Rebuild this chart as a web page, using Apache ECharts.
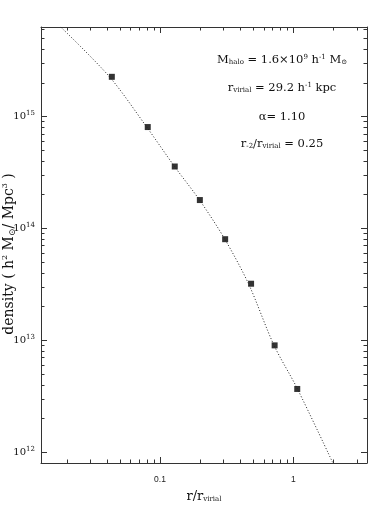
<!DOCTYPE html>
<html>
<head>
<meta charset="utf-8">
<script src="https://cdn.jsdelivr.net/npm/echarts@6/dist/echarts.min.js"></script>
<style>
  html, body { margin: 0; padding: 0; background: #fff; }
  #chart { width: 388px; height: 516px; }
</style>
</head>
<body>
<div id="chart"></div>
<script>
// measured halo (squares)
var pointR = [0.0435, 0.0809, 0.129, 0.199, 0.308, 0.482, 0.724, 1.07];
var pointDensity = [2.26e15, 8.04e14, 3.57e14, 1.79e14, 8.0e13, 3.2e13, 9.0e12, 3.67e12];
// fitted profile (dotted line)
var fitR = [0.0180, 0.0418, 0.0792, 0.1285, 0.198, 0.305, 0.461, 0.716, 1.066, 1.968];
var fitDensity = [6.30e15, 2.26e15, 8.09e14, 3.57e14, 1.79e14, 8.07e13, 3.20e13, 9.02e12, 3.74e12, 8.13e11];

// axes
var xMin = 0.0128, xMax = 3.57;
var yMin = 8.0e11, yMax = 6.3e15;
var xMajor = [0.1, 1];
var xMajorLabels = ["0.1", "1"];
var xMinor = [0.02, 0.03, 0.04, 0.05, 0.06, 0.07, 0.08, 0.09,
  0.2, 0.3, 0.4, 0.5, 0.6, 0.7, 0.8, 0.9, 2, 3];
var yMajor = [1e12, 1e13, 1e14, 1e15];
var yMajorExp = ["12", "13", "14", "15"];
var yMinor = [2e12, 3e12, 4e12, 5e12, 6e12, 7e12, 8e12, 9e12,
  2e13, 3e13, 4e13, 5e13, 6e13, 7e13, 8e13, 9e13,
  2e14, 3e14, 4e14, 5e14, 6e14, 7e14, 8e14, 9e14,
  2e15, 3e15, 4e15, 5e15, 6e15];

var serif = "DejaVu Serif";
var lineCol = "#333";

function findIdx(list, v) {
  for (var i = 0; i < list.length; i++) {
    if (Math.abs(Math.log10(list[i]) - Math.log10(v)) < 1e-6) return i;
  }
  return -1;
}

function makeAxis(kind, position, ticks, len, withLine) {
  return {
    type: "log",
    min: kind === "x" ? xMin : yMin,
    max: kind === "x" ? xMax : yMax,
    position: position,
    axisLine: { show: withLine, lineStyle: { color: lineCol, width: 1 } },
    axisTick: { show: true, inside: true, length: len, customValues: ticks,
      lineStyle: { color: lineCol, width: 1 } },
    axisLabel: { show: false },
    minorTick: { show: false },
    splitLine: { show: false }
  };
}

var xBottom = makeAxis("x", "bottom", xMajor, 6, true);
xBottom.axisLabel = {
  show: true,
  customValues: xMajor,
  margin: 12,
  fontFamily: "Liberation Sans",
  fontSize: 8.5,
  color: "#222",
  formatter: function (v) { var i = findIdx(xMajor, v); return i < 0 ? "" : xMajorLabels[i]; }
};
xBottom.name = "{r|r/r}{s|virial}";
xBottom.nameLocation = "middle";
xBottom.nameGap = 27;
xBottom.nameTextStyle = {
  rich: {
    r: { fontFamily: serif, fontSize: 13, color: "#111" },
    s: { fontFamily: serif, fontSize: 7, color: "#111", padding: [6, 0, 0, 0] }
  }
};

var yLeft = makeAxis("y", "left", yMajor, 6, true);
yLeft.axisLabel = {
  show: true,
  customValues: yMajor,
  margin: 6,
  formatter: function (v) { var i = findIdx(yMajor, v); return i < 0 ? "" : "{b|10}{s|" + yMajorExp[i] + "}"; },
  rich: {
    b: { fontFamily: serif, fontSize: 10, color: "#111" },
    s: { fontFamily: serif, fontSize: 7, color: "#111", padding: [0, 0, 6, 0] }
  }
};

var noteRich = {
  s: { fontFamily: serif, fontSize: 7, fill: "#111", padding: [5, 0, 0, 0] },
  p: { fontFamily: serif, fontSize: 7, fill: "#111", padding: [0, 0, 6, 0] }
};

function note(text, y) {
  return {
    type: "text",
    style: {
      text: text, x: 282, y: y, align: "center", verticalAlign: "middle",
      fontFamily: serif, fontSize: 11.5, fill: "#111", rich: noteRich
    }
  };
}

var option = {
  backgroundColor: "#fff",
  animation: false,
  grid: { left: 41, top: 27, right: 21, bottom: 53, containLabel: false, outerBoundsMode: "none" },
  xAxis: [
    xBottom,
    makeAxis("x", "bottom", xMinor, 3.5, false),
    makeAxis("x", "top", xMajor, 6, true),
    makeAxis("x", "top", xMinor, 3.5, false)
  ],
  yAxis: [
    yLeft,
    makeAxis("y", "left", yMinor, 3.5, false),
    makeAxis("y", "right", yMajor, 6, true),
    makeAxis("y", "right", yMinor, 3.5, false)
  ],
  series: [
    {
      name: "fit",
      type: "line",
      xAxisIndex: 0,
      yAxisIndex: 0,
      data: fitR.map(function (r, i) { return [r, fitDensity[i]]; }),
      showSymbol: false,
      smooth: 0.3,
      clip: true,
      lineStyle: { color: "#222", width: 1, type: [1, 2] }
    },
    {
      name: "halo",
      type: "scatter",
      xAxisIndex: 0,
      yAxisIndex: 0,
      symbol: "rect",
      symbolSize: 6,
      itemStyle: { color: "#000" },
      data: pointR.map(function (r, i) { return [r, pointDensity[i]]; })
    }
  ],
  graphic: [
    note("M{s|halo} = 1.6×10{p|9} h{p|-1} M{s|⊙}", 60),
    note("r{s|virial} = 29.2 h{p|-1} kpc", 88),
    note("α= 1.10", 117),
    note("r{s|-2}/r{s|virial} = 0.25", 144),
    {
      // y axis title, rotated
      type: "text",
      x: 9, y: 254, rotation: Math.PI / 2,
      style: {
        text: "density ( h{p|2} M{d|⊙}/ Mpc{p|3} )",
        align: "center", verticalAlign: "middle",
        fontFamily: serif, fontSize: 14, fill: "#111",
        rich: {
          p: { fontFamily: serif, fontSize: 8, fill: "#111", padding: [0, 0, 8, 0] },
          d: { fontFamily: serif, fontSize: 9, fill: "#111", padding: [7, 0, 0, 0] }
        }
      }
    }
  ]
};

var chart = echarts.init(document.getElementById("chart"), null, { renderer: "canvas" });
chart.setOption(option);
</script>
</body>
</html>
